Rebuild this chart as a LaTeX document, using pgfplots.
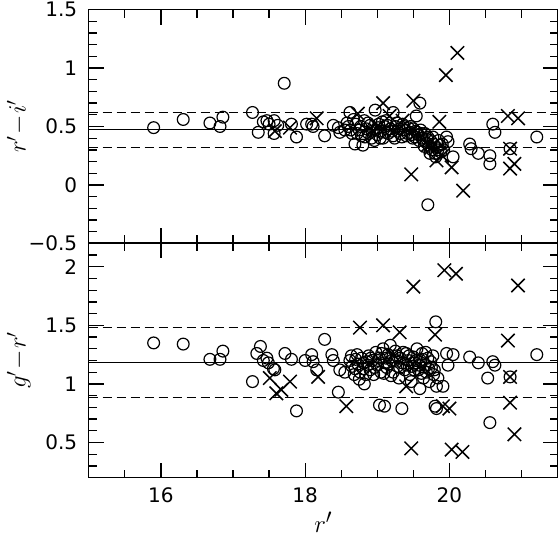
\documentclass[border=0pt]{standalone}
\usepackage{pgfplots}
\pgfplotsset{compat=1.18}
\usepackage{fontspec}
\setmainfont{DejaVu Sans}

\pgfplotstableread{
x y
15.90 0.49
16.31 0.56
16.68 0.53
16.86 0.58
16.82 0.50
17.27 0.62
17.35 0.45
17.42 0.54
17.47 0.55
17.50 0.52
17.57 0.44
17.57 0.55
17.62 0.51
17.71 0.87
17.81 0.52
17.88 0.41
18.02 0.52
18.09 0.52
18.11 0.50
18.27 0.42
18.39 0.51
18.46 0.49
18.48 0.45
18.55 0.47
18.62 0.62
18.60 0.50
18.65 0.44
18.69 0.35
18.70 0.52
18.75 0.47
18.78 0.42
18.80 0.34
18.82 0.55
18.85 0.48
18.88 0.44
18.90 0.51
18.92 0.40
18.97 0.64
18.98 0.47
19.00 0.43
19.02 0.52
19.05 0.46
19.08 0.40
19.10 0.50
19.12 0.55
19.15 0.44
19.18 0.48
19.22 0.62
19.22 0.42
19.25 0.50
19.28 0.46
19.32 0.44
19.35 0.52
19.38 0.47
19.40 0.42
19.43 0.49
19.45 0.45
19.48 0.43
19.50 0.48
19.52 0.41
19.54 0.59
19.55 0.45
19.57 0.43
19.59 0.70
19.60 0.47
19.62 0.40
19.64 0.38
19.66 0.44
19.68 0.36
19.70 0.41
19.72 0.33
19.74 0.38
19.76 0.30
19.78 0.35
19.80 0.27
19.82 0.32
19.85 0.38
19.88 0.28
19.90 0.35
19.96 0.41
19.98 0.37
20.05 0.24
19.70 -0.17
20.28 0.35
20.30 0.31
20.40 0.27
20.56 0.25
20.56 0.18
20.60 0.52
20.63 0.45
20.84 0.31
21.21 0.41
18.58 0.53
18.63 0.47
18.67 0.56
18.72 0.44
18.77 0.50
18.83 0.41
18.87 0.53
18.93 0.46
18.96 0.38
19.01 0.49
19.04 0.40
19.07 0.54
19.11 0.45
19.14 0.51
19.20 0.46
19.24 0.40
19.27 0.53
19.30 0.48
19.34 0.41
19.37 0.50
19.42 0.44
19.46 0.50
19.49 0.40
19.53 0.46
19.58 0.38
19.61 0.44
19.65 0.33
19.69 0.39
19.73 0.27
19.77 0.41
19.81 0.24
19.84 0.30
19.87 0.34
19.92 0.30
}\topcirc

\pgfplotstableread{
x y
17.79 0.49
17.58 0.46
18.16 0.57
18.73 0.61
18.95 0.45
19.00 0.50
19.08 0.70
19.17 0.59
19.35 0.55
19.47 0.09
19.50 0.72
19.86 0.54
19.95 0.94
20.11 1.13
20.19 -0.05
19.82 0.21
20.03 0.15
19.75 0.32
19.70 0.34
19.90 0.25
20.81 0.59
20.95 0.57
20.84 0.31
20.84 0.14
20.90 0.18
}\topx

\pgfplotstableread{
x y
15.90 1.35
16.31 1.34
16.68 1.21
16.86 1.28
16.82 1.21
17.27 1.02
17.33 1.26
17.38 1.32
17.42 1.20
17.47 1.22
17.49 1.18
17.56 1.13
17.58 1.12
17.72 1.26
17.81 1.21
17.88 0.77
18.00 1.20
18.09 1.25
18.11 1.19
18.16 1.12
18.27 1.38
18.37 1.25
18.39 1.20
18.46 0.93
18.48 1.12
18.55 1.10
18.62 1.20
18.65 1.15
18.68 1.08
18.70 1.21
18.73 1.17
18.75 1.04
18.78 1.22
18.80 1.13
18.82 1.00
18.85 1.19
18.88 1.24
18.90 1.12
18.93 1.20
18.95 1.08
18.98 1.27
19.00 1.16
19.03 0.82
19.03 1.22
19.05 1.10
19.08 1.30
19.10 0.81
19.10 1.18
19.13 1.14
19.15 1.25
19.18 1.33
19.20 1.20
19.22 1.10
19.25 1.28
19.28 1.15
19.30 1.05
19.32 1.22
19.34 0.79
19.35 1.18
19.38 1.12
19.40 1.26
19.43 1.20
19.45 1.08
19.48 1.15
19.50 1.23
19.52 1.18
19.55 1.30
19.57 1.12
19.59 0.96
19.60 1.20
19.62 1.26
19.64 1.05
19.66 1.16
19.68 1.10
19.70 1.22
19.72 1.02
19.75 1.14
19.78 1.08
19.81 1.53
19.82 0.98
19.82 0.79
19.80 0.81
19.91 0.98
19.96 1.26
19.98 1.16
20.05 1.25
20.28 1.23
20.40 1.18
20.53 1.05
20.56 0.67
20.60 1.19
20.63 1.16
20.84 1.06
21.21 1.25
18.64 1.24
18.69 1.13
18.72 1.25
18.76 1.10
18.81 1.18
18.84 1.08
18.87 1.16
18.91 1.22
18.96 1.14
19.01 1.20
19.06 1.26
19.09 1.09
19.12 1.22
19.16 1.17
19.19 1.07
19.24 1.20
19.27 1.24
19.31 1.14
19.36 1.27
19.41 1.16
19.44 1.24
19.47 1.02
19.51 1.12
19.54 1.20
19.58 1.16
19.61 1.09
19.63 1.21
19.67 1.27
19.71 1.13
19.74 1.19
19.77 1.24
19.79 1.12
19.84 1.05
}\botcirc

\pgfplotstableread{
x y
17.51 1.05
17.60 0.92
17.67 0.95
17.79 1.02
18.18 1.06
18.57 0.81
18.76 1.48
19.08 1.50
19.31 1.44
19.22 1.25
19.40 0.98
19.47 0.45
19.50 1.83
19.80 1.42
19.93 1.97
20.09 1.94
19.91 0.81
20.00 0.79
20.03 0.44
20.18 0.42
20.81 1.37
20.84 1.06
20.84 0.84
20.90 0.57
20.95 1.84
}\botx

\pgfplotsset{
  mypanel/.style={
    scale only axis, width=469pt,
    xmin=15, xmax=21.5,
    xtick={16,18,20},
    minor xtick={15.5,16.5,17,17.5,18.5,19,19.5,20.5,21},
    tick align=inside,
    major tick length=15pt, minor tick length=8pt,
    axis line style={line width=1.6pt},
    every tick/.append style={line width=1.3pt, black},
    tick label style={font=\fontsize{20}{22}\selectfont},
    yticklabel style={xshift=-8pt},
    xticklabel style={yshift=-6pt},
    every axis y label/.style={at={(axis description cs:0,0.5)}, xshift=-63pt, rotate=90, anchor=base, inner sep=0pt, font=\fontsize{27}{29}\selectfont},
    every axis x label/.style={at={(axis description cs:0.5,0)}, yshift=-55pt, anchor=base, inner sep=0pt, font=\fontsize{29}{31}\selectfont},
  },
  circ/.style={only marks, mark=o, mark size=5.9pt, mark options={line width=1.2pt, black}},
  cross/.style={only marks, mark=x, mark size=9.5pt, mark options={line width=1.5pt, black}},
}

\begin{document}
\begin{tikzpicture}
\path[use as bounding box] (-88.7pt,-59.3pt) rectangle (470.3pt,477.7pt);

\begin{axis}[mypanel, at={(0,0)}, anchor=south west, height=234.4pt,
  ymin=0.2, ymax=2.2, ytick={0.5,1,1.5,2}, yticklabels={0.5,1,1.5,2},
  minor ytick={0.3,0.4,0.6,0.7,0.8,0.9,1.1,1.2,1.3,1.4,1.6,1.7,1.8,1.9,2.1},
  xticklabels={16,18,20},
  xlabel={$r'$}, ylabel={$g'\!-\!r'$}]
\addplot[black, line width=1.1pt] coordinates {(15,1.181) (21.5,1.181)};
\addplot[black, line width=1.2pt, dash pattern=on 9pt off 5pt] coordinates {(15,1.479) (21.5,1.479)};
\addplot[black, line width=1.2pt, dash pattern=on 9pt off 5pt] coordinates {(15,0.881) (21.5,0.881)};
\addplot[circ] table[x=x,y=y] {\botcirc};
\addplot[cross] table[x=x,y=y] {\botx};
\end{axis}

\begin{axis}[mypanel, at={(0,234.4pt)}, anchor=south west, height=233.6pt,
  ymin=-0.5, ymax=1.5, ytick={-0.5,0,0.5,1,1.5}, yticklabels={−0.5,0,0.5,1,1.5},
  minor ytick={-0.4,-0.3,-0.2,-0.1,0.1,0.2,0.3,0.4,0.6,0.7,0.8,0.9,1.1,1.2,1.3,1.4},
  xticklabels={},
  ylabel={$r'\!-\!i'$}]
\addplot[black, line width=1.1pt] coordinates {(15,0.473) (21.5,0.473)};
\addplot[black, line width=1.2pt, dash pattern=on 9pt off 5pt] coordinates {(15,0.623) (21.5,0.623)};
\addplot[black, line width=1.2pt, dash pattern=on 9pt off 5pt] coordinates {(15,0.323) (21.5,0.323)};
\addplot[circ] table[x=x,y=y] {\topcirc};
\addplot[cross] table[x=x,y=y] {\topx};
\end{axis}
\end{tikzpicture}
\end{document}
